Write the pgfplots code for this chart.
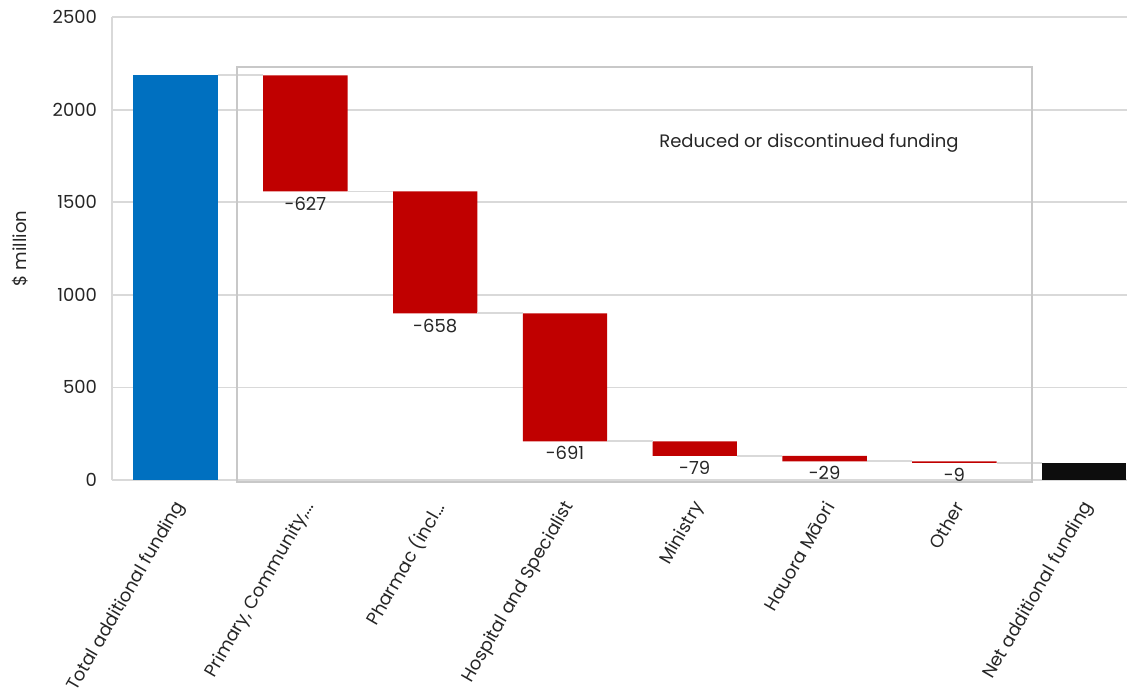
\documentclass[border=0pt]{standalone}
\usepackage{pgfplots}
\pgfplotsset{compat=1.18}
\usepackage{fontspec}
\setmainfont{Poppins}
\definecolor{cblue}{HTML}{0070C0}
\definecolor{cred}{HTML}{C00000}
\definecolor{cgrid}{HTML}{D9D9D9}
\definecolor{cbox}{HTML}{C8C8C8}
\definecolor{ctext}{HTML}{262626}
\newcommand{\ddd}{.{}.{}.}
\pgfplotsset{common/.style={
  at={(0,0)}, anchor=south west, scale only axis,
  width=507.5pt, height=231.5pt,
  xmin=-0.49, xmax=7.33, ymin=0, ymax=2500, clip=false,
}}
\begin{document}
\begin{tikzpicture}[font=\fontsize{9}{11}\selectfont, text=ctext]
\begin{axis}[common,
  ybar stacked, bar width=0.65,
  xtick={0,1,2,3,4,5,6,7},
  xticklabels={Total additional funding, {Primary, Community,\ddd}, {Pharmac (incl\ddd}, Hospital and Specialist, Ministry, Hauora Māori, Other, Net additional funding},
  xticklabel style={rotate=60, anchor=east, xshift=-5.5pt, yshift=-8pt, font=\fontsize{9}{11}\selectfont},
  ytick={0,500,1000,1500,2000,2500},
  yticklabel style={font=\fontsize{9}{11}\selectfont, xshift=-4pt},
  /pgf/number format/1000 sep={},
  /pgf/number format/assume math mode=true,
  ymajorgrids, grid style={cgrid, line width=0.9pt},
  axis lines*=left, axis line style={cgrid, line width=0.9pt},
  major tick length=0pt,
  ylabel={\$ million},
  every axis y label/.style={at={(rel axis cs:0,0.5)}, rotate=90, anchor=center, yshift=46pt, font=\fontsize{9}{11}\selectfont},
]
\addplot[draw=none, fill=none] coordinates {(0,0) (1,1558) (2,900) (3,209) (4,130) (5,101) (6,92) (7,0)};
\addplot[draw=none, fill=cblue] coordinates {(0,2185) (1,0) (2,0) (3,0) (4,0) (5,0) (6,0) (7,0)};
\addplot[draw=none, fill=cred] coordinates {(0,0) (1,627) (2,658) (3,691) (4,79) (5,29) (6,9) (7,0)};
\addplot[draw=none, fill=black!95] coordinates {(0,0) (1,0) (2,0) (3,0) (4,0) (5,0) (6,0) (7,92)};
\end{axis}
\begin{axis}[common, hide axis, unbounded coords=jump]
\addplot[cgrid, line width=0.9pt] coordinates {
 (0.325,2185) (0.675,2185) (nan,nan)
 (1.325,1558) (1.675,1558) (nan,nan)
 (2.325,900) (2.675,900) (nan,nan)
 (3.325,209) (3.675,209) (nan,nan)
 (4.325,130) (4.675,130) (nan,nan)
 (5.325,101) (5.675,101) (nan,nan)
 (6.325,92) (6.675,92)};
\addplot[cbox, line width=1pt] coordinates {(0.473,2230) (6.596,2230) (6.596,-11) (0.473,-11)} -- cycle;
\node[anchor=north, inner sep=1pt, yshift=-1.5pt] at (axis cs:1,1558) {-627};
\node[anchor=north, inner sep=1pt, yshift=-1.5pt] at (axis cs:2,900) {-658};
\node[anchor=north, inner sep=1pt, yshift=-1.5pt] at (axis cs:3,209) {-691};
\node[anchor=north, inner sep=1pt, yshift=-1.5pt] at (axis cs:4,130) {-79};
\node[anchor=north, inner sep=1pt, yshift=-1.5pt] at (axis cs:5,101) {-29};
\node[anchor=north, inner sep=1pt, yshift=-1.5pt] at (axis cs:6,92) {-9};
\node at (axis cs:4.88,1820) {Reduced or discontinued funding};
\end{axis}
\pgfresetboundingbox
\path (-56pt,-108pt) rectangle (507.5pt,240pt);
\end{tikzpicture}
\end{document}
